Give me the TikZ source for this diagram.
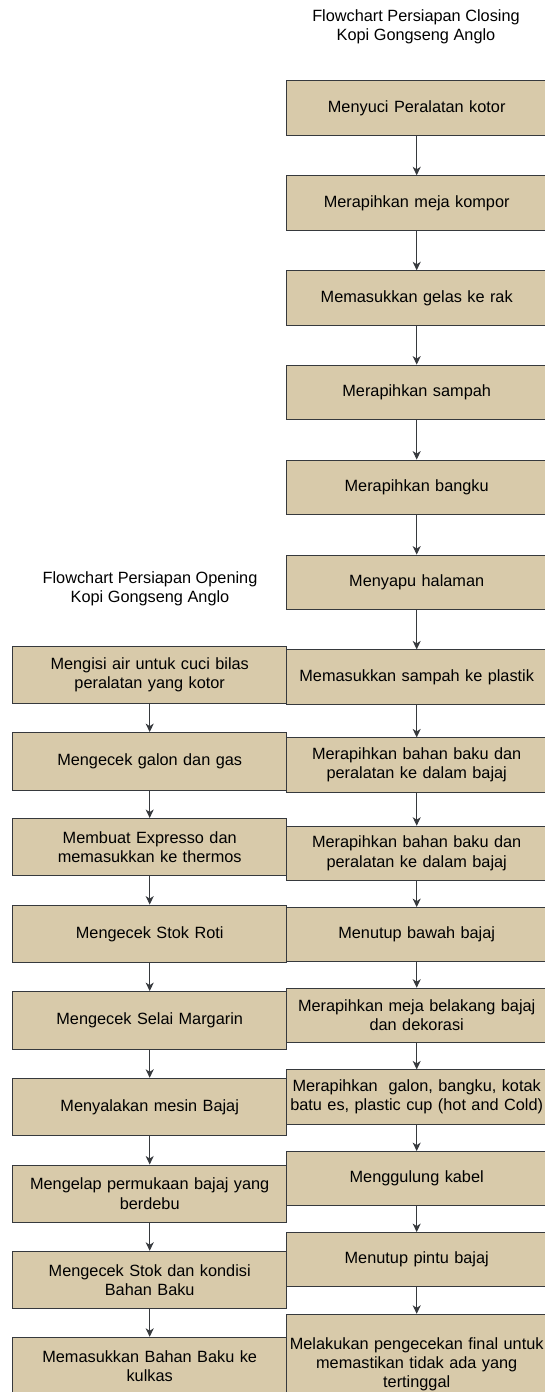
\documentclass[tikz,border=0pt]{standalone}
\usepackage{fontspec}
\setmainfont{Liberation Sans}
\usetikzlibrary{arrows.meta}
\definecolor{kopi}{RGB}{216,202,170}
\definecolor{garis}{RGB}{54,57,61}

\begin{document}
\begin{tikzpicture}[x=1pt,y=-1pt,
    every node/.style={font=\fontsize{16.3}{19.4}\selectfont, align=center, text=black},
    kiri/.style={draw=garis, fill=kopi, line width=1pt, inner sep=0pt,
      text width=270pt, minimum width=274pt, minimum height=57.4pt},
    kanan/.style={draw=garis, fill=kopi, line width=1pt, inner sep=0pt,
      text width=256pt, minimum width=260pt, minimum height=54.2pt},
    panah/.style={draw=garis, line width=1pt, -{Stealth[length=8.5pt,width=8pt,inset=2.5pt]}}]
    \useasboundingbox (0,0) rectangle (545,1392);

    \node (judulC) at (416,27) {Flowchart Persiapan Closing\\Kopi Gongseng Anglo};
    \node (judulO) at (150,589) {Flowchart Persiapan Opening\\Kopi Gongseng Anglo};

    \node[kanan] (c1)  at (416.7,107.9)  {Menyuci Peralatan kotor};
    \node[kanan] (c2)  at (416.7,202.9)  {Merapihkan meja kompor};
    \node[kanan] (c3)  at (416.7,297.9)  {Memasukkan gelas ke rak};
    \node[kanan] (c4)  at (416.7,392.2)  {Merapihkan sampah};
    \node[kanan] (c5)  at (416.7,487.2)  {Merapihkan bangku};
    \node[kanan] (c6)  at (416.7,582.2)  {Menyapu halaman};
    \node[kanan] (c7)  at (416.7,677)    {Memasukkan sampah ke plastik};
    \node[kanan] (c8)  at (416.7,765)    {Merapihkan bahan baku dan\\peralatan ke dalam bajaj};
    \node[kanan] (c9)  at (416.7,853.3)  {Merapihkan bahan baku dan\\peralatan ke dalam bajaj};
    \node[kanan] (c10) at (416.7,934.7)  {Menutup bawah bajaj};
    \node[kanan] (c11) at (416.7,1015.3) {Merapihkan meja belakang bajaj\\dan dekorasi};
    \node[kanan] (c12) at (416.7,1097)   {Merapihkan~ galon, bangku, kotak\\batu es, plastic cup (hot and Cold)};
    \node[kanan] (c13) at (416.7,1178.7) {Menggulung kabel};
    \node[kanan] (c14) at (416.7,1259.7) {Menutup pintu bajaj};
    \node[kanan, minimum height=100pt] (c15) at (416.7,1364.3) {Melakukan pengecekan final untuk\\memastikan tidak ada yang\\tertinggal};

    \node[kiri] (o1) at (149.7,674.7)  {Mengisi air untuk cuci bilas\\peralatan yang kotor};
    \node[kiri] (o2) at (149.7,761.3)  {Mengecek galon dan gas};
    \node[kiri] (o3) at (149.7,847.2)  {Membuat Expresso dan\\memasukkan ke thermos};
    \node[kiri] (o4) at (149.7,933.8)  {Mengecek Stok Roti};
    \node[kiri] (o5) at (149.7,1020.3) {Mengecek Selai Margarin};
    \node[kiri] (o6) at (149.7,1107)   {Menyalakan mesin Bajaj};
    \node[kiri] (o7) at (149.7,1193.7) {Mengelap permukaan bajaj yang\\berdebu};
    \node[kiri] (o8) at (149.7,1280)   {Mengecek Stok dan kondisi\\Bahan Baku};
    \node[kiri] (o9) at (149.7,1366)   {Memasukkan Bahan Baku ke\\kulkas};

    \draw[panah] (c1) -- (c2);
    \draw[panah] (c2) -- (c3);
    \draw[panah] (c3) -- (c4);
    \draw[panah] (c4) -- (c5);
    \draw[panah] (c5) -- (c6);
    \draw[panah] (c6) -- (c7);
    \draw[panah] (c7) -- (c8);
    \draw[panah] (c8) -- (c9);
    \draw[panah] (c9) -- (c10);
    \draw[panah] (c10) -- (c11);
    \draw[panah] (c11) -- (c12);
    \draw[panah] (c12) -- (c13);
    \draw[panah] (c13) -- (c14);
    \draw[panah] (c14) -- (c15);

    \draw[panah] (o1) -- (o2);
    \draw[panah] (o2) -- (o3);
    \draw[panah] (o3) -- (o4);
    \draw[panah] (o4) -- (o5);
    \draw[panah] (o5) -- (o6);
    \draw[panah] (o6) -- (o7);
    \draw[panah] (o7) -- (o8);
    \draw[panah] (o8) -- (o9);
\end{tikzpicture}
\end{document}
